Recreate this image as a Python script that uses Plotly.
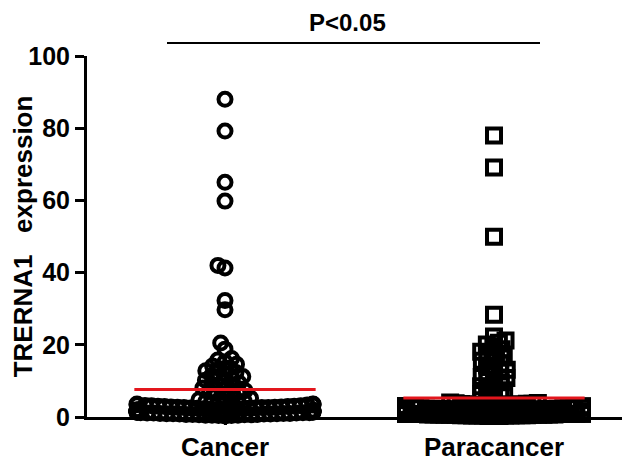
import math
import plotly.graph_objects as go

categories = ["Cancer", "Paracancer"]

cancer_values = [
    88.0, 79.2, 65.0, 59.8, 42.0, 41.3, 32.3, 29.7, 20.5, 18.8,
    16.2, 15.8, 15.2, 14.6, 14.1, 13.6, 13.4, 12.8, 12.3, 12.0, 11.5, 11.2,
    10.9, 10.5, 10.2, 9.8, 9.4, 9.1, 8.6, 8.3, 8.0, 7.6, 7.3, 7.1, 6.8, 6.5,
    6.0, 5.6, 5.2, 4.8,
    0.4, 2.1, 1.3, 3.6, 0.9, 2.7, 1.8, 0.6, 3.1, 1.5,
    2.4, 0.8, 3.9, 1.1, 2.9, 0.5, 1.7, 3.3, 2.2, 1.0,
    4.2, 0.7, 2.6, 1.4, 3.0, 1.9, 0.3, 2.5, 3.7, 1.2,
    2.0, 0.9, 3.4, 1.6, 2.8, 0.6, 1.3, 4.0, 2.3, 1.8,
    0.5, 3.2, 1.1, 2.6, 0.8, 3.8, 1.5, 2.1, 0.4, 2.9,
    1.7, 3.5, 1.0, 2.4, 0.7, 1.9, 3.1, 1.2, 2.7, 0.9,
    4.3, 1.4, 2.2, 0.6, 3.6, 1.6, 2.0, 1.1, 2.8, 0.5,
    3.3, 1.8, 2.5, 0.8, 1.3, 3.9, 2.3, 1.0, 2.6, 1.5,
    3.0, 0.7, 1.9, 1.2,
]

paracancer_values = [
    78.0, 69.1, 49.9, 28.3, 22.3,
    21.2, 20.6, 20.1, 19.4, 18.8, 18.1, 17.6, 17.2, 16.5, 15.9, 15.6, 14.8,
    14.3, 14.0, 13.1, 12.6, 12.3, 11.6, 11.1, 10.8, 10.0, 9.6, 9.3, 8.5,
    7.8, 7.4, 7.0, 6.4, 5.8, 5.3, 4.9,
    0.5, 1.9, 3.2, 0.8, 2.4, 1.2, 3.7, 0.3, 2.0, 1.6,
    2.8, 0.7, 1.4, 3.4, 0.9, 2.2, 1.1, 3.0, 0.4, 1.8,
    2.6, 1.0, 3.9, 0.6, 1.5, 2.3, 0.8, 3.3, 1.3, 2.1,
    0.5, 1.7, 2.9, 1.0, 3.6, 0.7, 2.5, 1.2, 0.4, 1.9,
    3.1, 0.9, 2.0, 1.4, 2.7, 0.6, 1.6, 3.5, 1.1, 2.3,
    0.3, 1.8, 2.9, 0.8, 1.3, 3.8, 2.2, 0.5, 1.5, 2.6,
    1.0, 3.2, 0.7, 2.1, 1.7, 0.4, 2.4, 1.2, 3.0, 0.9,
    1.4, 2.8, 0.6, 1.9, 3.4, 1.1, 2.2, 0.8, 1.6, 2.5,
    0.5, 3.7, 1.3, 2.0, 0.7, 1.8, 2.7, 1.0, 3.1, 1.5,
    0.6, 2.3, 1.2, 4.0, 0.9, 1.7, 2.9, 0.4, 2.1, 1.4,
    3.3, 0.8, 1.1, 2.4, 0.6, 1.5, 3.0, 0.9, 2.0, 1.3,
    0.4, 2.6, 1.7, 0.7, 3.5, 1.0, 2.2, 0.5, 1.8, 2.9,
    1.2, 0.8, 3.2, 1.6, 0.3, 2.1, 1.4, 0.9, 2.7, 1.1,
    0.6,
]

sig_label = "P<0.05"
y_title = "TRERNA1\u00a0\u00a0\u00a0expression"
y_ticks = [0, 20, 40, 60, 80, 100]

# ---- layout geometry (figure pixels; page adds an 8px body margin) ----
W, H = 630, 461
ML, MR, MT, MB = 79, 8, 48, 52
PW = W - ML - MR
PH = H - MT - MB
PX_PER_CAT = 269.0
X0 = -(217 - ML) / PX_PER_CAT
X1 = X0 + PW / PX_PER_CAT
PPU = PH / 100.0
Y_AX = MT + PH


def swarm(vals, s_lo, s_hi, split, maxw):
    idx = sorted(range(len(vals)), key=lambda i: vals[i])
    placed = []
    xs = [0.0] * len(vals)
    for i in idx:
        y = vals[i] * PPU
        si = s_lo if vals[i] < split else s_hi
        intervals = []
        for (px, py, sj) in placed:
            s = (si + sj) / 2.0
            dy = abs(py - y)
            if dy < s:
                dx = math.sqrt(s * s - dy * dy)
                intervals.append((px - dx, px + dx))
        cands = [0.0] + [a for a, b in intervals] + [b for a, b in intervals]
        cands.sort(key=lambda c: (abs(c), c))
        x = 0.0
        for c in cands:
            if all(not (a + 1e-9 < c < b - 1e-9) for a, b in intervals):
                x = c
                break
        x = max(-maxw, min(maxw, x))
        placed.append((x, y, si))
        xs[i] = x
    return xs


fig = go.Figure()

groups = [
    (cancer_values, "circle-open", 13, 4, 6.5, 7.5),
    (paracancer_values, "square-open", 14, 4, 5.5, 7.0),
]
for gi, (vals, sym, size, lw, s_lo, s_hi) in enumerate(groups):
    offs = swarm(vals, s_lo, s_hi, 4.5, 88)
    fig.add_trace(go.Scatter(
        x=[gi + o / PX_PER_CAT for o in offs], y=vals, mode="markers",
        marker=dict(symbol=sym, size=size, color="black",
                    line=dict(color="black", width=lw)),
        cliponaxis=False, showlegend=False, hoverinfo="skip"))

for gi, vals in enumerate([cancer_values, paracancer_values]):
    m = sum(vals) / len(vals)
    fig.add_trace(go.Scatter(
        x=[gi - 0.337, gi + 0.337], y=[m, m], mode="lines",
        line=dict(color="#e3161d", width=3), cliponaxis=False,
        showlegend=False, hoverinfo="skip"))

font_fam = "Liberation Sans, Arial, sans-serif"
fig.update_layout(
    width=W, height=H, margin=dict(l=ML, r=MR, t=MT, b=MB, autoexpand=False),
    plot_bgcolor="white", paper_bgcolor="white",
    font=dict(family=font_fam, color="black"),
    xaxis=dict(range=[X0, X1], tickvals=[0, 1], ticktext=[f"<b>{c}</b>" for c in categories],
               showgrid=False, zeroline=False, showline=True, linewidth=3, linecolor="black",
               ticks="outside", ticklen=5, tickwidth=3, tickcolor="black", automargin=False,
               ticklabelstandoff=0,
               tickfont=dict(size=26, family=font_fam, color="black")),
    yaxis=dict(range=[0, 100], tickvals=y_ticks, ticktext=[f"<b>{t}</b>" for t in y_ticks],
               showgrid=False, zeroline=False, showline=True, linewidth=3, linecolor="black",
               ticks="outside", ticklen=9, tickwidth=3, tickcolor="black", automargin=False,
               tickfont=dict(size=25, family=font_fam, color="black"),
               title=dict(text=f"<b>{y_title}</b>", font=dict(size=26, family=font_fam),
                          standoff=0)),
)

fig.add_shape(type="line", xref="paper", yref="paper",
              x0=(159 - ML) / PW, x1=(532 - ML) / PW,
              y0=(Y_AX - 35) / PH, y1=(Y_AX - 35) / PH,
              line=dict(color="black", width=2))
fig.add_annotation(xref="paper", yref="paper", x=(339 - ML) / PW, y=(Y_AX - 14) / PH,
                   text=f"<b>{sig_label}</b>", showarrow=False,
                   font=dict(size=24, family=font_fam, color="black"),
                   xanchor="center", yanchor="middle")

fig.write_html("out.html")
